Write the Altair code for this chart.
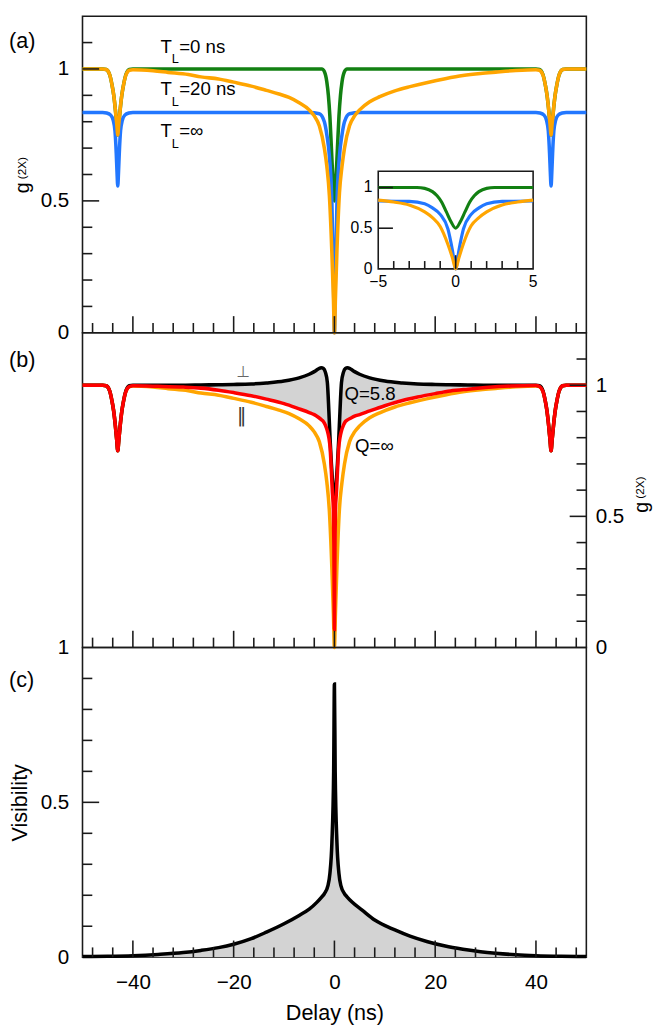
import altair as alt
import pandas as pd

# ---------------- data ----------------
green_t = [-50, -46, -45.3, -44.6, -44.15, -43.8, -43.5, -43.2, -43, -42.8, -42.5, -42.2, -41.85, -41.4, -40.7, -40,
           -5, -2.5, -2, -1.5, -1.2, -0.9, -0.6, -0.3, 0, 0.3, 0.6, 0.9, 1.2, 1.5, 2, 2.5, 5,
           40, 40.7, 41.4, 41.85, 42.2, 42.5, 42.8, 43, 43.2, 43.5, 43.8, 44.15, 44.6, 45.3, 46, 50]
green_g = [1, 1, 0.998, 0.978, 0.94, 0.9, 0.85, 0.79, 0.75, 0.79, 0.85, 0.9, 0.94, 0.978, 0.998, 1,
           1, 1.0, 0.99, 0.95, 0.9, 0.82, 0.7, 0.58, 0.5, 0.58, 0.7, 0.82, 0.9, 0.95, 0.99, 1.0, 1,
           1, 0.998, 0.978, 0.94, 0.9, 0.85, 0.79, 0.75, 0.79, 0.85, 0.9, 0.94, 0.978, 0.998, 1, 1]

blue_t = [-50, -46, -45.2, -44.4, -43.9, -43.55, -43.3, -43.15, -43, -42.85, -42.7, -42.45, -42.1, -41.6, -40.8, -40,
          -5, -3, -2, -1.5, -1, -0.5, -0.2, 0, 0.2, 0.5, 1, 1.5, 2, 3, 5,
          40, 40.8, 41.6, 42.1, 42.45, 42.7, 42.85, 43, 43.15, 43.3, 43.55, 43.9, 44.4, 45.2, 46, 50]
blue_g = [0.835, 0.835, 0.833, 0.825, 0.805, 0.765, 0.68, 0.61, 0.556, 0.61, 0.68, 0.765, 0.805, 0.825, 0.833, 0.835,
          0.835, 0.83, 0.80, 0.75, 0.67, 0.49, 0.22, 0, 0.22, 0.49, 0.67, 0.75, 0.80, 0.83, 0.835,
          0.835, 0.833, 0.825, 0.805, 0.765, 0.68, 0.61, 0.556, 0.61, 0.68, 0.765, 0.805, 0.825, 0.833, 0.835, 0.835]

orange_t = [-50, -46, -45.3, -44.6, -44.15, -43.8, -43.5, -43.2, -43, -42.8, -42.5, -42.2, -41.85, -41.4, -40.7, -40,
            -36, -33, -29, -26.5, -23, -20, -16.5, -13.5, -11, -9, -7, -5, -4, -3, -2, -1.5, -1, -0.5, -0.2, 0,
            0.2, 0.5, 1, 1.5, 2, 3, 4, 5, 7, 9, 12, 15, 18.5, 22, 25.5, 29, 32, 36, 40,
            40.7, 41.4, 41.85, 42.2, 42.5, 42.8, 43, 43.2, 43.5, 43.8, 44.15, 44.6, 45.3, 46, 50]
orange_g = [1, 1, 0.998, 0.978, 0.94, 0.9, 0.85, 0.79, 0.75, 0.79, 0.85, 0.9, 0.94, 0.976, 0.995, 0.997,
            0.993, 0.987, 0.979, 0.97, 0.962, 0.95, 0.935, 0.919, 0.905, 0.892, 0.872, 0.845, 0.822, 0.785, 0.70,
            0.63, 0.52, 0.3, 0.13, 0,
            0.13, 0.31, 0.53, 0.63, 0.70, 0.785, 0.822, 0.845, 0.876, 0.895, 0.917, 0.933, 0.949, 0.963, 0.975,
            0.983, 0.988, 0.994, 0.997,
            0.995, 0.976, 0.94, 0.9, 0.85, 0.79, 0.75, 0.79, 0.85, 0.9, 0.94, 0.978, 0.998, 1, 1]

b_t = [-50, -46, -45.3, -44.6, -44.15, -43.8, -43.5, -43.2, -43, -42.8, -42.5, -42.2, -41.85, -41.4, -40.7, -40,
       -35, -30, -26.5, -23, -20, -16.5, -13.5, -10, -7, -5, -4, -3.2, -2.6, -2.2, -1.8, -1.4, -1.1, -0.85, -0.6,
       -0.4, -0.2, -0.1, 0,
       0.1, 0.2, 0.4, 0.6, 0.85, 1.1, 1.4, 1.8, 2.2, 2.6, 3.2, 4, 5, 7, 10, 13.5, 16.5, 20, 23, 26.5, 30, 35, 40,
       40.7, 41.4, 41.85, 42.2, 42.5, 42.8, 43, 43.2, 43.5, 43.8, 44.15, 44.6, 45.3, 46, 50]
perp_g = [1, 1, 0.998, 0.978, 0.94, 0.9, 0.85, 0.79, 0.75, 0.79, 0.85, 0.9, 0.94, 0.978, 0.998, 1.0,
          1.0, 1.0, 1.001, 1.002, 1.003, 1.005, 1.009, 1.016, 1.028, 1.042, 1.052, 1.062, 1.067, 1.064, 1.05,
          1.01, 0.9, 0.79, 0.70, 0.64, 0.585, 0.572, 0.568,
          0.572, 0.585, 0.64, 0.70, 0.79, 0.9, 1.01, 1.05, 1.064, 1.067, 1.062, 1.052, 1.042, 1.028, 1.016, 1.009,
          1.005, 1.003, 1.002, 1.001, 1.0, 1.0, 1.0,
          0.998, 0.978, 0.94, 0.9, 0.85, 0.79, 0.75, 0.79, 0.85, 0.9, 0.94, 0.978, 0.998, 1, 1]
par_g = [1, 1, 0.998, 0.978, 0.94, 0.9, 0.85, 0.79, 0.75, 0.79, 0.85, 0.9, 0.94, 0.976, 0.995, 0.998,
         0.996, 0.993, 0.989, 0.981, 0.972, 0.96, 0.947, 0.93, 0.91, 0.896, 0.888, 0.878, 0.869, 0.862, 0.848,
         0.826, 0.80, 0.76, 0.67, 0.59, 0.524, 0.38, 0.069,
         0.38, 0.524, 0.59, 0.67, 0.76, 0.80, 0.826, 0.848, 0.862, 0.868, 0.874, 0.882, 0.888, 0.902, 0.922, 0.942,
         0.955, 0.968, 0.978, 0.985, 0.991, 0.997, 0.999,
         0.995, 0.976, 0.94, 0.9, 0.85, 0.79, 0.75, 0.79, 0.85, 0.9, 0.94, 0.978, 0.998, 1, 1]

c_t = [-50, -45, -40, -35, -30, -26.5, -23, -20, -16.5, -13.5, -10, -7, -5, -3.5, -2.5, -2, -1.3, -0.9, -0.5, -0.15,
       0, 0.15, 0.5, 0.9, 1.3, 2, 2.5, 3.5, 5.5, 8, 12, 15, 18.5, 22, 25.5, 29, 32, 36, 40, 45, 50]
vis = [0.002, 0.003, 0.005, 0.009, 0.015, 0.022, 0.031, 0.042, 0.06, 0.081, 0.108, 0.135, 0.155, 0.177, 0.195,
       0.205, 0.23, 0.27, 0.37, 0.6, 0.882, 0.6, 0.37, 0.27, 0.23, 0.205, 0.195, 0.178, 0.152, 0.12, 0.088, 0.068,
       0.05, 0.036, 0.026, 0.018, 0.013, 0.008, 0.005, 0.003, 0.002]

x_major = [-40, -20, 0, 20, 40]
x_minor = [-48, -44, -36, -32, -28, -24, -16, -12, -8, -4, 4, 8, 12, 16, 24, 28, 32, 36, 44, 48]
g_labels = [0, 0.5, 1]
g_major = [0.5, 1.0]
g_minor = [0.1, 0.2, 0.3, 0.4, 0.6, 0.7, 0.8, 0.9, 1.1]
v_major = [0.5]
v_minor = [0.1, 0.2, 0.3, 0.4, 0.6, 0.7, 0.8, 0.9]
in_x_labels = [-5, 0, 5]
in_x_major = [0]
in_x_minor = [-4, -3, -2, -1, 1, 2, 3, 4]
in_g_major = [0.5, 1.0]

for a, b in [(green_t, green_g), (blue_t, blue_g), (orange_t, orange_g), (b_t, perp_g), (b_t, par_g), (c_t, vis)]:
    assert len(a) == len(b), (len(a), len(b))

FONT = "Liberation Sans"
W = 514
HA, HB, HC = 323, 321, 316
INK = "#1a1a1a"
GREEN, BLUE, ORANGE, RED, FILL = "#128012", "#2277ff", "#ffa500", "#ff0000", "#d3d3d3"
LW = 3.6
TW = 1.6

xs = alt.Scale(domain=[-50, 50], nice=False, zero=False)
ys_a = alt.Scale(domain=[0, 1.2], nice=False, zero=False)
ys_b = alt.Scale(domain=[0, 1.2], nice=False, zero=False)
ys_c = alt.Scale(domain=[0, 1], nice=False, zero=False)

ya = alt.Axis(values=g_labels, format=".1~f", labelPadding=14, title=None, labelFlush=False)
yb = alt.Axis(orient="right", values=g_labels, format=".1~f", labelPadding=9, title=None, labelFlush=False)
yc = alt.Axis(values=g_labels, format=".1~f", labelPadding=14, title="Visibility", titlePadding=9,
              labelFlush=False)
xc = alt.Axis(values=x_major, format="d", labelPadding=15, title="Delay (ns)", titlePadding=11,
              labelFlush=False)

df_green = pd.DataFrame({"t": green_t, "g": green_g})
df_blue = pd.DataFrame({"t": blue_t, "g": blue_g})
df_orange = pd.DataFrame({"t": orange_t, "g": orange_g})
df_b = pd.DataFrame({"t": b_t, "perp": perp_g, "par": par_g})
df_c = pd.DataFrame({"t": c_t, "v": vis})


def curve(df, col, color, ys, yax, xax=None, width=LW):
    return alt.Chart(df).mark_line(color=color, strokeWidth=width, interpolate="monotone").encode(
        x=alt.X("t:Q", scale=xs, axis=xax), y=alt.Y(f"{col}:Q", scale=ys, axis=yax))


def xticks(vals, length, H, xax=None):
    return alt.Chart(pd.DataFrame({"v": vals})).mark_rule(color=INK, strokeWidth=TW).encode(
        x=alt.X("v:Q", scale=xs, axis=xax), y=alt.value(H), y2=alt.value(H - length))


def yticks(vals, length, ys, yax, right=False):
    x0, x1 = (W - length, W) if right else (0, length)
    return alt.Chart(pd.DataFrame({"v": vals})).mark_rule(color=INK, strokeWidth=TW).encode(
        y=alt.Y("v:Q", scale=ys, axis=yax), x=alt.value(x0), x2=alt.value(x1))


def note(text, t, g, ys, yax, size=19, font=FONT, color="black", align="left", baseline="alphabetic", xax=None):
    return alt.Chart(pd.DataFrame({"s": [text]})).mark_text(
        text=text, fontSize=size, font=font, color=color, align=align, baseline=baseline).encode(
        x=alt.XDatum(t, type="quantitative", scale=xs, axis=xax),
        y=alt.YDatum(g, type="quantitative", scale=ys, axis=yax))


def label(text, x, y, size=22, angle=0, align="left", baseline="middle"):
    kw = dict(text=text, fontSize=size, font=FONT, color="black", align=align, baseline=baseline)
    if angle:
        kw["angle"] = angle
    return alt.Chart(pd.DataFrame({"s": [text]})).mark_text(**kw).encode(x=alt.value(x), y=alt.value(y))


main_a = alt.layer(
    curve(df_green, "g", GREEN, ys_a, ya),
    curve(df_blue, "g", BLUE, ys_a, ya),
    curve(df_orange, "g", ORANGE, ys_a, ya),
    xticks(x_minor, 10, HA), xticks(x_major, 17, HA),
    yticks(g_minor, 10, ys_a, ya), yticks(g_major, 17, ys_a, ya),
    note("T", -34.5, 1.062, ys_a, ya), note("L", -32.3, 1.021, ys_a, ya, size=13),
    note("=0 ns", -30.8, 1.062, ys_a, ya),
    note("T", -34.5, 0.902, ys_a, ya), note("L", -32.3, 0.861, ys_a, ya, size=13),
    note("=20 ns", -30.8, 0.902, ys_a, ya),
    note("T", -34.5, 0.741, ys_a, ya), note("L", -32.3, 0.701, ys_a, ya, size=13),
    note("=\u221e", -30.8, 0.741, ys_a, ya),
    label("(a)", -75, 25),
    label("g", -55, 175, size=20, angle=270, align="center", baseline="alphabetic"),
    label("(2X)", -58, 155, size=12, angle=270, align="center", baseline="alphabetic"),
)

IX0, IX1 = 301.7, 459.7
IY0, IY1 = 257.8, 158.2
xs_i = alt.Scale(domain=[-5, 5], range=[IX0, IX1], nice=False, zero=False)
ys_i = alt.Scale(domain=[0, 1.2], range=[IY0, IY1], nice=False, zero=False)
IN_FILTER = "datum.t >= -5 && datum.t <= 5"


def icurve(df, color):
    return alt.Chart(df).transform_filter(IN_FILTER).mark_line(
        color=color, strokeWidth=3.2, interpolate="monotone").encode(
        x=alt.X("t:Q", scale=xs_i, axis=None), y=alt.Y("g:Q", scale=ys_i, axis=None))


inset = alt.layer(
    alt.Chart(pd.DataFrame({"s": [0]})).mark_rect(fill="white", stroke=INK, strokeWidth=TW).encode(
        x=alt.value(IX0), x2=alt.value(IX1), y=alt.value(IY1), y2=alt.value(IY0)),
    icurve(df_green, GREEN), icurve(df_blue, BLUE), icurve(df_orange, ORANGE),
    alt.Chart(pd.DataFrame({"v": in_x_minor})).mark_rule(color=INK, strokeWidth=TW).encode(
        x=alt.X("v:Q", scale=xs_i, axis=None), y=alt.value(IY0), y2=alt.value(IY0 - 8)),
    alt.Chart(pd.DataFrame({"v": in_x_major})).mark_rule(color=INK, strokeWidth=TW).encode(
        x=alt.X("v:Q", scale=xs_i, axis=None), y=alt.value(IY0), y2=alt.value(IY0 - 14)),
    alt.Chart(pd.DataFrame({"v": in_g_major})).mark_rule(color=INK, strokeWidth=TW).encode(
        y=alt.Y("v:Q", scale=ys_i, axis=None), x=alt.value(IX0), x2=alt.value(IX0 + 15)),
    alt.Chart(pd.DataFrame({"v": g_labels})).mark_text(
        font=FONT, fontSize=16, align="right", baseline="middle").encode(
        y=alt.Y("v:Q", scale=ys_i, axis=None), x=alt.value(IX0 - 6), text=alt.Text("v:Q", format=".1~f")),
    alt.Chart(pd.DataFrame({"v": in_x_labels})).mark_text(
        font=FONT, fontSize=16, align="center", baseline="top").encode(
        x=alt.X("v:Q", scale=xs_i, axis=None), y=alt.value(IY0 + 5), text=alt.Text("v:Q", format="d")),
)

pa = alt.layer(main_a, inset).resolve_scale(x="independent", y="independent").properties(width=W, height=HA)

pb = alt.layer(
    alt.Chart(df_b).mark_area(color=FILL, interpolate="monotone").encode(
        x=alt.X("t:Q", scale=xs, axis=None), y=alt.Y("perp:Q", scale=ys_b, axis=yb), y2=alt.Y2("par:Q")),
    curve(df_orange, "g", ORANGE, ys_b, yb),
    curve(df_b, "perp", "black", ys_b, yb),
    curve(df_b, "par", RED, ys_b, yb),
    xticks(x_minor, 10, HB), xticks(x_major, 17, HB),
    yticks(g_minor, 10, ys_b, yb, right=True), yticks(g_major, 17, ys_b, yb, right=True),
    note("\u22a5", -18.1, 1.033, ys_b, yb, size=16, font="DejaVu Sans", color="#666666", align="center"),
    note("\u2016", -18.4, 0.882, ys_b, yb, size=19, font="DejaVu Sans", color="#333333", align="center",
         baseline="middle"),
    note("Q=5.8", 2.0, 0.943, ys_b, yb),
    note("Q=\u221e", 4.1, 0.746, ys_b, yb),
    label("(b)", -75, 28),
    label("g", 577, 178, size=20, angle=270, align="center", baseline="alphabetic"),
    label("(2X)", 573, 158, size=12, angle=270, align="center", baseline="alphabetic"),
).properties(width=W, height=HB)

pc = alt.layer(
    alt.Chart(df_c).mark_area(color=FILL, interpolate="monotone").encode(
        x=alt.X("t:Q", scale=xs, axis=xc), y=alt.Y("v:Q", scale=ys_c, axis=yc), y2=alt.value(HC)),
    curve(df_c, "v", "black", ys_c, yc, xax=xc),
    xticks(x_minor, 10, HC, xax=xc), xticks(x_major, 17, HC, xax=xc),
    yticks(v_minor, 10, ys_c, yc), yticks(v_major, 17, ys_c, yc),
    label("(c)", -75, 33),
).properties(width=W, height=HC)

chart = alt.vconcat(pa, pb, pc, spacing=0, bounds="flush").properties(
    padding={"left": 0, "top": -3, "right": 0, "bottom": 0}
).configure_view(
    stroke=INK, strokeWidth=TW
).configure_axis(
    labelFont=FONT, titleFont=FONT, labelFontSize=21, titleFontSize=22, titleFontWeight="normal",
    labelColor="black", titleColor="black", grid=False, domain=False, ticks=False, tickSize=0
).configure_text(font=FONT)

chart.save("out.html", embed_options={"renderer": "svg", "actions": False})
